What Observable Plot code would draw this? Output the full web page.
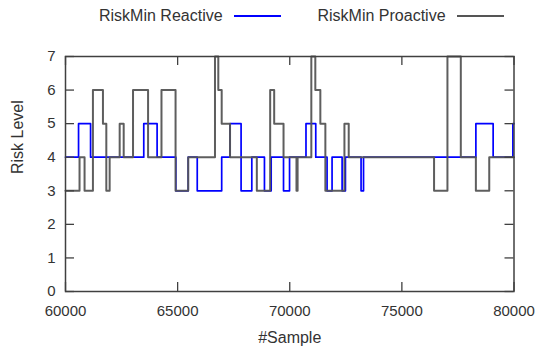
<!DOCTYPE html>
<html><head><meta charset="utf-8">
<script src="https://cdn.jsdelivr.net/npm/d3@7"></script>
<script src="https://cdn.jsdelivr.net/npm/@observablehq/plot@0.6"></script>
<style>
body{margin:0;background:#fff;font-family:"Liberation Sans",Arial,sans-serif;}
#wrap{position:relative;width:535px;height:354px;}
.leg{position:absolute;top:7px;font-size:16px;line-height:18px;color:#333;display:flex;align-items:center;white-space:nowrap;}
.leg .sw{display:inline-block;width:47px;height:0;border-top:2px solid;margin-left:11px;}
svg{display:block;}
</style></head><body>
<div id="wrap"></div>
<script>
// ---- data ----
const seriesNames = ["RiskMin Reactive", "RiskMin Proactive"];
const seriesColors = ["#0000ff", "#555555"];

// step breakpoints: value holds from x[i] until x[i+1]
const reactiveX = [60000,60582,61118,63490,64085,64920,65472,65875,66965,67337,67830,68308,68872,69172,69722,69991,70724,71160,71664,71887,72335,72483,73180,73290,78300,79070,79950,80000];
const reactiveY = [4,5,4,5,4,3,4,3,4,5,3,4,3,4,3,4,5,4,3,4,3,4,3,4,5,4,5,5];

const proactiveX = [60000,60626,60850,61223,61670,61820,61969,62416,62595,63011,63682,64280,64908,65472,66666,66814,66965,67337,68532,69127,69306,69723,70300,70350,70962,71140,71364,71588,72438,72630,76435,77032,77628,78300,78896,80000];
const proactiveY = [3,4,3,6,5,3,4,5,4,6,4,6,3,4,7,6,5,4,3,6,5,4,3,4,7,6,5,3,5,4,3,7,4,3,4,4];

const xTicks = [60000, 65000, 70000, 75000, 80000];
const yTicks = [0, 1, 2, 3, 4, 5, 6, 7];
const xLabel = "#Sample";
const yLabel = "Risk Level";

// ---- build table ----
const reactive = reactiveX.map((x, i) => ({x, y: reactiveY[i], s: seriesNames[0]}));
const proactive = proactiveX.map((x, i) => ({x, y: proactiveY[i], s: seriesNames[1]}));

const W = 535, H = 354;
const mL = 65, mR = 21.5, mT = 56, mB = 63;
const innerW = W - mL - mR, innerH = H - mT - mB;
const tickLen = 9;
const ink = "#333";

const chart = Plot.plot({
  width: W, height: H,
  marginLeft: mL, marginRight: mR, marginTop: mT, marginBottom: mB,
  style: {fontFamily: '"Liberation Sans", Arial, sans-serif', color: ink, background: "#fff"},
  x: {domain: [60000, 80000]},
  y: {domain: [0, 7]},
  color: {domain: seriesNames, range: seriesColors},
  marks: [
    Plot.line(reactive, {x: "x", y: "y", stroke: "s", curve: "step-after", strokeWidth: 1.7}),
    Plot.line(proactive, {x: "x", y: "y", stroke: "s", curve: "step-after", strokeWidth: 2, strokeOpacity: 0.95}),
    // inward ticks on all four sides
    Plot.tickX(xTicks, {x: d => d, insetTop: innerH - tickLen, stroke: "#404040", strokeWidth: 1.3}),
    Plot.tickX(xTicks, {x: d => d, insetBottom: innerH - tickLen, stroke: "#404040", strokeWidth: 1.3}),
    Plot.tickY(yTicks, {y: d => d, insetRight: innerW - tickLen, stroke: "#404040", strokeWidth: 1.3}),
    Plot.tickY(yTicks, {y: d => d, insetLeft: innerW - tickLen, stroke: "#404040", strokeWidth: 1.3}),
    Plot.frame({stroke: "#404040", strokeWidth: 1.5}),
    Plot.axisX(xTicks, {tickSize: 0, tickPadding: 14, fontSize: 15, tickFormat: d3.format("d"), label: null, fill: ink}),
    Plot.axisY(yTicks, {tickSize: 0, tickPadding: 10, fontSize: 15, tickFormat: d3.format("d"), label: null, fill: ink}),
    Plot.text([xLabel], {frameAnchor: "bottom", dy: 51, fontSize: 16, fill: ink}),
    Plot.text([yLabel], {frameAnchor: "left", dx: -48, rotate: -90, fontSize: 16, fill: ink})
  ]
});

const wrap = document.getElementById("wrap");
wrap.appendChild(chart);

// legend (HTML, above the plot area)
const legendLeft = [99, 317.5];
seriesNames.forEach((name, i) => {
  const item = document.createElement("div");
  item.className = "leg";
  item.style.left = legendLeft[i] + "px";
  const t = document.createElement("span");
  t.textContent = name;
  const sw = document.createElement("span");
  sw.className = "sw";
  sw.style.borderTopColor = seriesColors[i];
  item.appendChild(t);
  item.appendChild(sw);
  wrap.appendChild(item);
});
</script>
</body></html>
